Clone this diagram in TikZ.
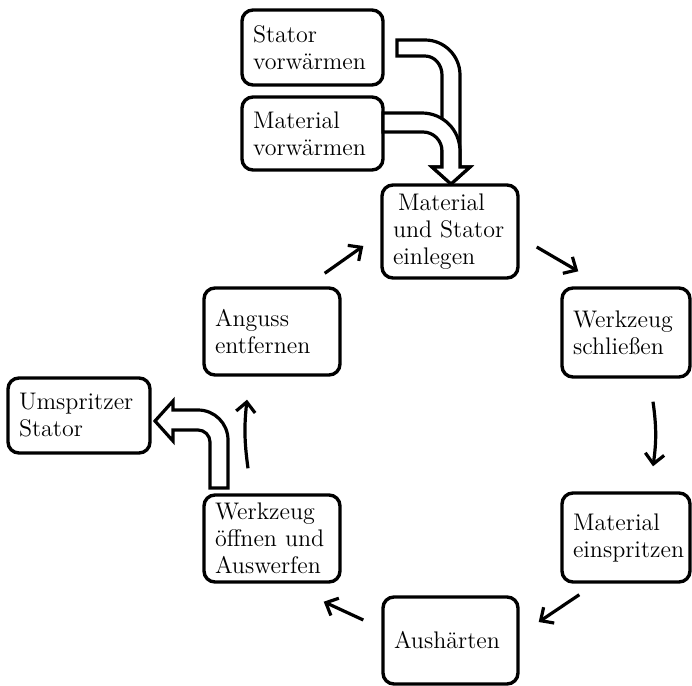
\documentclass[tikz,border=0pt]{standalone}
\usetikzlibrary{arrows.meta}
\begin{document}
\begin{tikzpicture}[x=0.5pt,y=-0.5pt,
  pbox/.style={draw, line width=1.7pt, rounded corners=5.5pt, fill=white,
    align=left, inner xsep=5.5pt, inner ysep=2pt,
    font=\fontsize{12}{13.5}\selectfont},
  flow/.style={line width=1.6pt, -{Straight Barb[length=5pt,width=9.5pt]}},
  blockarrow/.style={draw, line width=1.6pt, fill=white, line join=miter}]
\useasboundingbox (0,0) rectangle (692,686);

% boxes
\node[pbox, minimum width=70.5pt, minimum height=37.5pt, text width=59.5pt] (sv) at (312.5,47.5) {Stator\\vorwärmen};
\node[pbox, minimum width=70.5pt, minimum height=36.5pt, text width=59.5pt] (mv) at (312.5,133.5) {Material\\vorwärmen};
\node[pbox, minimum width=68pt, minimum height=46.5pt, text width=57pt] (ein) at (450,231.5) {\hspace{2.5pt}Material\\und Stator\\einlegen};
\node[pbox, minimum width=64pt, minimum height=44.5pt, text width=53pt] (ws) at (626,332.5) {Werkzeug\\schließen};
\node[pbox, minimum width=64pt, minimum height=44.5pt, text width=53pt] (me) at (626,537.5) {Material\\einspritzen};
\node[pbox, minimum width=67.5pt, minimum height=43.5pt, text width=56.5pt] (au) at (450.5,640.5) {Aushärten};
\node[pbox, minimum width=68pt, minimum height=43.5pt, text width=57pt] (wo) at (272,538.5) {Werkzeug\\öffnen und\\Auswerfen};
\node[pbox, minimum width=68pt, minimum height=43.5pt, text width=57pt] (an) at (272,331.5) {Anguss\\entfernen};
\node[pbox, minimum width=71pt, minimum height=37.5pt, text width=60pt] (us) at (79,415.5) {Umspritzer\\Stator};

% cycle connectors
\draw[flow] ([shift={(17,15.5)}]ein.east) -- ([shift={(18,-15)}]ws.north west);
\draw[flow] ([shift={(27,23)}]ws.south) to[bend left=8] ([shift={(27,-25)}]me.north);
\draw[flow] ([shift={(19,11)}]me.south west) -- ([shift={(19,-18.5)}]au.east);
\draw[flow] ([shift={(-18,-20.5)}]au.west) -- ([shift={(-18,18)}]wo.south east);
\draw[flow] ([shift={(-24,-25)}]wo.north) to[bend left=7] ([shift={(-25,23)}]an.south);
\draw[flow] ([shift={(-17,-13)}]an.north east) -- ([shift={(-17,14.5)}]ein.west);

% block arrow: Stator vorwaermen -> einlegen
\path[blockarrow] (397,40) -- (425,40) .. controls (444.3,40) and (460,55.7) .. (460,75)
  -- (460,167) -- (470,167) -- (451,184) -- (432,167) -- (442,167) -- (442,75)
  .. controls (442,64.5) and (434.4,56) .. (425,56) -- (397,56) -- cycle;
% block arrow: Material vorwaermen -> einlegen
\path[blockarrow] (383,113) -- (422,113) .. controls (443,113) and (460,130) .. (460,151)
  -- (460,167) -- (470,167) -- (451,184) -- (432,167) -- (442,167) -- (442,151)
  .. controls (442,140.5) and (433.5,132) .. (423,132) -- (383,132) -- cycle;
% block arrow: Werkzeug oeffnen -> Umspritzer Stator
\path[blockarrow] (210,488) -- (228,488) -- (228,440) .. controls (228,423.4) and (214.6,410) .. (198,410)
  -- (173,410) -- (173,401) -- (155,421) -- (173,441) -- (173,430) -- (198,430)
  .. controls (204.6,430) and (210,435.4) .. (210,442) -- cycle;
\end{tikzpicture}
\end{document}
